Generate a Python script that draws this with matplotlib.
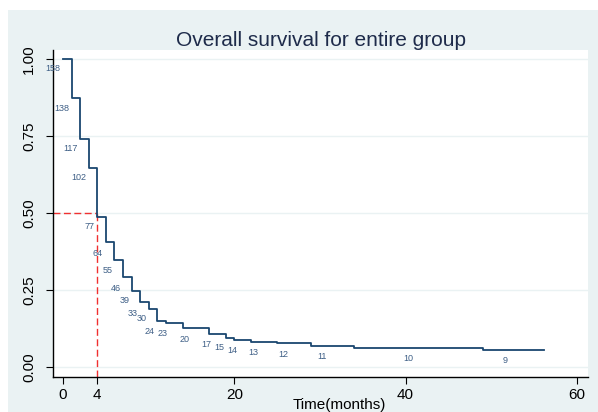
import matplotlib
matplotlib.use("Agg")
import matplotlib.pyplot as plt
from matplotlib.patches import Rectangle

plt.rcParams['font.family'] = ['Liberation Sans', 'DejaVu Sans']

# Kaplan-Meier steps
step_times = [0, 1, 2, 3, 4, 5, 6, 7, 8, 9, 10, 11, 12, 14, 17, 19, 20, 22, 25, 29, 34, 49]
survival = [1.0, 0.874, 0.741, 0.646, 0.487, 0.405, 0.347, 0.291, 0.248, 0.210,
            0.189, 0.150, 0.144, 0.127, 0.108, 0.096, 0.087, 0.081, 0.077, 0.070,
            0.063, 0.055]
last_time = 56.2

# number at risk labels and where they sit
at_risk = [158, 138, 117, 102, 77, 64, 55, 46, 39, 33, 30, 24, 23, 20, 17, 15, 14,
           13, 12, 11, 10, 9]
label_t = [-1.17, -0.15, 0.90, 1.87, 3.15, 4.08, 5.17, 6.15, 7.15, 8.13, 9.18, 10.15,
           11.63, 14.15, 16.69, 18.24, 19.72, 22.2, 25.75, 30.26, 40.34, 51.6]
label_s = [0.968, 0.840, 0.708, 0.615, 0.456, 0.369, 0.315, 0.256, 0.216, 0.174,
           0.157, 0.117, 0.110, 0.091, 0.074, 0.063, 0.055, 0.049, 0.042, 0.036,
           0.029, 0.021]

median_time = 4
x_ticks = [0, 4, 20, 40, 60]
y_ticks = [0.0, 0.25, 0.5, 0.75, 1.0]

bg = '#eaf2f3'
navy = '#1a476f'
red = '#f03030'

fig = plt.figure(figsize=(5.98, 4.12), dpi=100, facecolor='white')
fig.add_artist(Rectangle((8 / 598, 0), 1, 1 - 10 / 412, transform=fig.transFigure,
                         facecolor=bg, edgecolor='none', zorder=-5))
ax = fig.add_axes([53 / 598, 1 - 377 / 412, 535 / 598, 327 / 412])
ax.set_zorder(1)
ax.set_facecolor('white')

xs = step_times + [last_time]
ys = survival + [survival[-1]]
ax.step(xs, ys, where='post', color=navy, lw=1.3, zorder=3)

for n, t, s in zip(at_risk, label_t, label_s):
    ax.text(t, s, str(n), fontsize=6.5, color='#3e5f86', ha='center', va='center')

ax.set_xlim(-1.17, 61.3)
ax.set_ylim(-0.032, 1.029)

# median line
ax.plot([-1.17, median_time], [0.5, 0.5], color=red, ls=(0, (5, 2.5)), lw=1, zorder=2)
ax.plot([median_time, median_time], [-0.032, 0.5], color=red, ls=(0, (5, 2.5)), lw=1, zorder=2)

ax.set_yticks(y_ticks)
ax.set_yticklabels(['%.2f' % v for v in y_ticks], rotation=90, va='center')
ax.set_xticks(x_ticks)
ax.set_xticklabels([str(v) for v in x_ticks])
ax.yaxis.grid(True, color=bg, lw=1)
ax.set_axisbelow(True)
ax.tick_params(axis='both', labelsize=11, length=5, color='black')
ax.tick_params(axis='y', pad=7)
ax.tick_params(axis='x', pad=3)

for side in ['top', 'right']:
    ax.spines[side].set_visible(False)
for side in ['left', 'bottom']:
    ax.spines[side].set_color('black')
    ax.spines[side].set_linewidth(1)

ax.set_xlabel('Time(months)', fontsize=11)
ax.xaxis.set_label_coords(0.536, -0.0856)
ax.xaxis.label.set_va('center')
ax.set_title('Overall survival for entire group', fontsize=15, color='#1e2b4a', pad=3)

fig.savefig('out.png', dpi=100, facecolor=fig.get_facecolor())
